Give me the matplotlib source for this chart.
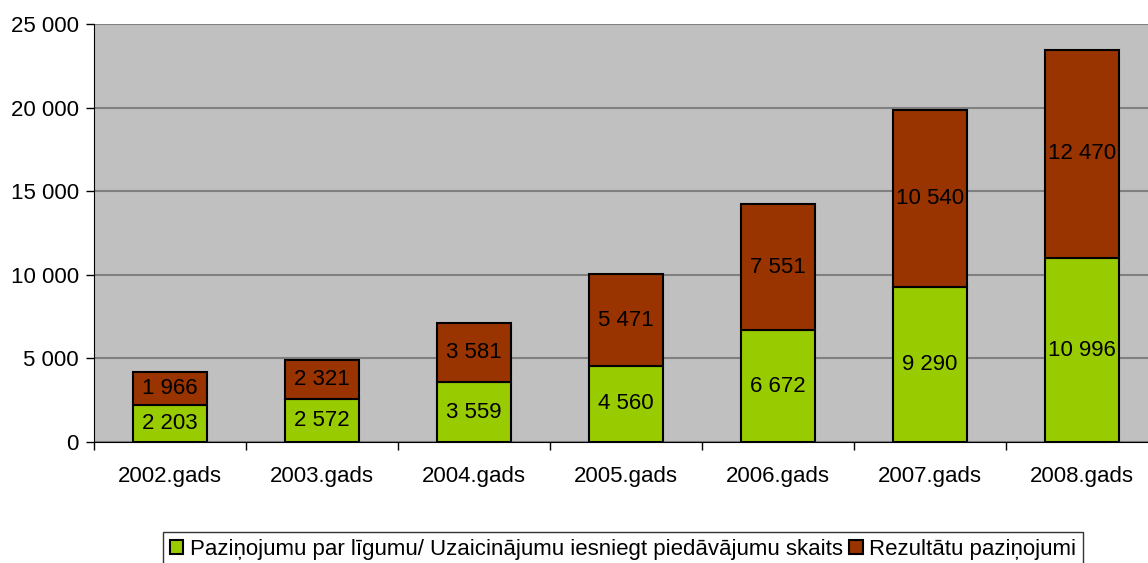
import matplotlib
matplotlib.use("Agg")
import matplotlib.pyplot as plt
from matplotlib.ticker import FuncFormatter, FixedLocator
import numpy as np

plt.rcParams['font.family'] = ['Liberation Sans', 'DejaVu Sans']

years = ["2002.gads", "2003.gads", "2004.gads", "2005.gads", "2006.gads", "2007.gads", "2008.gads"]
pazinojumi = [2203, 2572, 3559, 4560, 6672, 9290, 10996]
rezultati = [1966, 2321, 3581, 5471, 7551, 10540, 12470]
series_names = ["Paziņojumu par līgumu/ Uzaicinājumu iesniegt piedāvājumu skaits", "Rezultātu paziņojumi"]

W, H = 1148, 563
fig = plt.figure(figsize=(W/100, H/100), dpi=100)
left, right, top, bottom = 94, 1158, 24, 442
ax = fig.add_axes([left/W, 1-bottom/H, (right-left)/W, (bottom-top)/H])
ax.set_facecolor('#C0C0C0')

FS = 16
x = np.arange(len(years))
fmt = lambda v: f"{int(v):,}".replace(",", " ")
b1 = ax.bar(x, pazinojumi, width=0.49, color='#99CC00', edgecolor='black', linewidth=1.5, label=series_names[0], zorder=3)
b2 = ax.bar(x, rezultati, width=0.49, bottom=pazinojumi, color='#993300', edgecolor='black', linewidth=1.5, label=series_names[1], zorder=3)
for i in range(len(years)):
    ax.text(x[i], pazinojumi[i]/2, fmt(pazinojumi[i]), ha='center', va='center', fontsize=FS, zorder=4)
    ax.text(x[i], pazinojumi[i] + rezultati[i]/2, fmt(rezultati[i]), ha='center', va='center', fontsize=FS, zorder=4)

ax.set_xlim(-0.5, 6.5)
ax.set_ylim(0, 25000)
ax.set_yticks(range(0, 25001, 5000))
ax.yaxis.set_major_formatter(FuncFormatter(lambda v, p: fmt(v)))
ax.yaxis.grid(True, color='#808080', linewidth=1.5, zorder=1)
ax.set_axisbelow(True)
ax.set_xticks(x)
ax.set_xticklabels(years, fontsize=FS)
ax.xaxis.set_minor_locator(FixedLocator(np.arange(-0.5, 7, 1)))
ax.tick_params(axis='x', which='major', length=0, pad=17)
ax.tick_params(axis='x', which='minor', length=6, width=1, color='black')
ax.tick_params(axis='y', length=6, width=1, labelsize=FS, pad=5)
for s in ['top', 'right']:
    ax.spines[s].set_visible(False)
ax.spines['left'].set_color('black')
ax.spines['bottom'].set_color('black')

leg = fig.legend(loc='upper center', bbox_to_anchor=(623/W, 1-532/H), ncol=2, fontsize=FS,
                 frameon=True, fancybox=False, edgecolor='black', handlelength=0.6, handleheight=0.6,
                 handletextpad=0.3, columnspacing=0.3, borderpad=0.3, borderaxespad=0)
leg.get_frame().set_linewidth(1)

fig.savefig('out.png', dpi=100)
